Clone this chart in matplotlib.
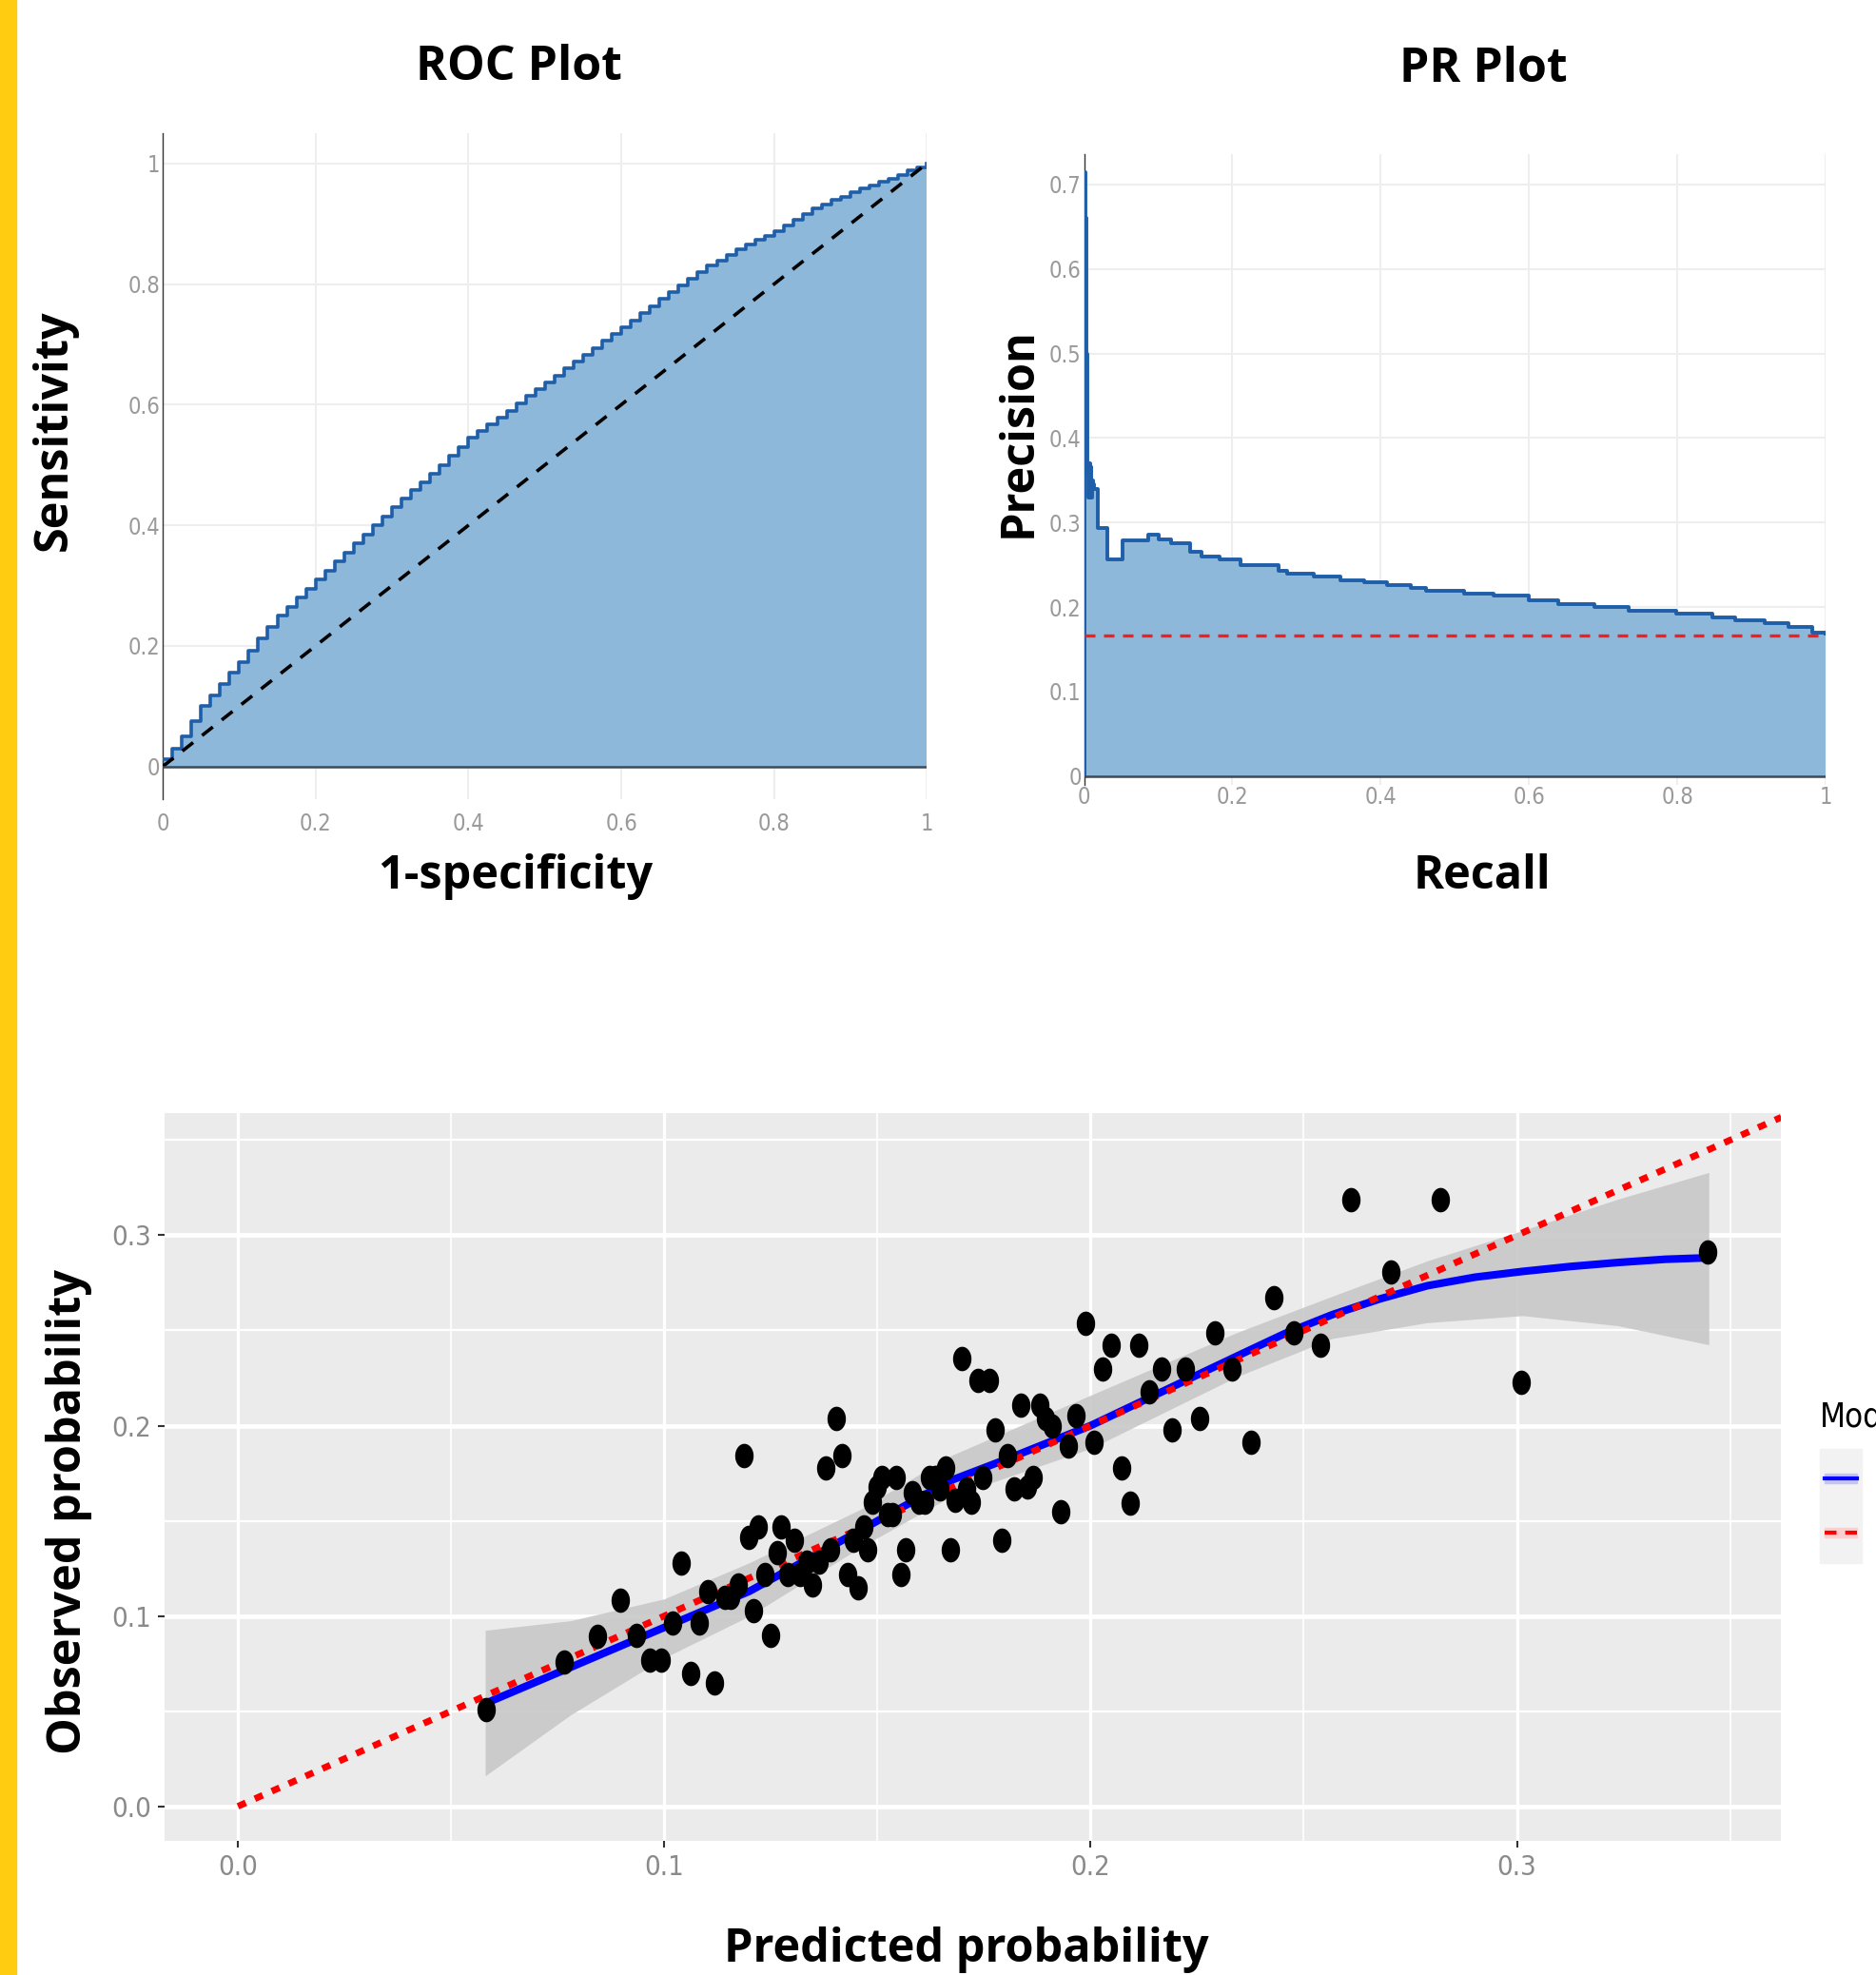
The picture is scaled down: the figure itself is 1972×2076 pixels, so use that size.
import numpy as np
import matplotlib
matplotlib.use("Agg")
import matplotlib.pyplot as plt
from matplotlib import font_manager
from matplotlib.lines import Line2D
from matplotlib.patches import Rectangle
from matplotlib.path import Path

# ---- ROC data ----
roc_fpr = [0.0000, 0.0125, 0.0250, 0.0375, 0.0500, 0.0625, 0.0750, 0.0875, 0.1000, 0.1125,
           0.1250, 0.1375, 0.1500, 0.1625, 0.1750, 0.1875, 0.2000, 0.2125, 0.2250, 0.2375,
           0.2500, 0.2625, 0.2750, 0.2875, 0.3000, 0.3125, 0.3250, 0.3375, 0.3500, 0.3625,
           0.3750, 0.3875, 0.4000, 0.4125, 0.4250, 0.4375, 0.4500, 0.4625, 0.4750, 0.4875,
           0.5000, 0.5125, 0.5250, 0.5375, 0.5500, 0.5625, 0.5750, 0.5875, 0.6000, 0.6125,
           0.6250, 0.6375, 0.6500, 0.6625, 0.6750, 0.6875, 0.7000, 0.7125, 0.7250, 0.7375,
           0.7500, 0.7625, 0.7750, 0.7875, 0.8000, 0.8125, 0.8250, 0.8375, 0.8500, 0.8625,
           0.8750, 0.8875, 0.9000, 0.9125, 0.9250, 0.9375, 0.9500, 0.9625, 0.9750, 0.9875, 1.0000]
roc_tpr = [0.012, 0.030, 0.050, 0.075, 0.100, 0.118, 0.137, 0.155, 0.173, 0.192,
           0.212, 0.231, 0.250, 0.265, 0.280, 0.295, 0.310, 0.325, 0.340, 0.355,
           0.370, 0.385, 0.400, 0.415, 0.430, 0.444, 0.458, 0.471, 0.485, 0.500,
           0.515, 0.530, 0.545, 0.556, 0.568, 0.579, 0.590, 0.602, 0.614, 0.625,
           0.637, 0.648, 0.660, 0.671, 0.683, 0.694, 0.706, 0.717, 0.728, 0.740,
           0.752, 0.763, 0.775, 0.786, 0.798, 0.809, 0.820, 0.830, 0.839, 0.848,
           0.857, 0.865, 0.873, 0.880, 0.888, 0.897, 0.907, 0.916, 0.925, 0.932,
           0.939, 0.945, 0.952, 0.958, 0.964, 0.969, 0.975, 0.981, 0.988, 0.994, 1.000]
roc_ticks = [0, 0.2, 0.4, 0.6, 0.8, 1]
roc_ticklabels = ["0", "0.2", "0.4", "0.6", "0.8", "1"]

# ---- PR data ----
pr_recall = [0.0, 0.0, 0.0015, 0.002, 0.003, 0.004, 0.005, 0.006, 0.007, 0.008, 0.009, 0.010,
             0.011, 0.012, 0.014, 0.018, 0.032, 0.052, 0.087, 0.101, 0.117, 0.143, 0.159,
             0.183, 0.211, 0.262, 0.274, 0.310, 0.346, 0.378, 0.409, 0.441, 0.461, 0.513,
             0.552, 0.600, 0.640, 0.688, 0.735, 0.799, 0.847, 0.878, 0.918, 0.950, 0.982, 1.0]
pr_precision = [0.0, 0.715, 0.715, 0.66, 0.50, 0.41, 0.36, 0.33, 0.37, 0.34, 0.365, 0.33,
                0.35, 0.345, 0.34, 0.293, 0.256, 0.279, 0.286, 0.280, 0.275, 0.265, 0.260,
                0.256, 0.250, 0.243, 0.239, 0.236, 0.232, 0.229, 0.226, 0.222, 0.219, 0.216,
                0.213, 0.208, 0.203, 0.200, 0.196, 0.192, 0.188, 0.184, 0.181, 0.176, 0.170, 0.168]
pr_baseline = 0.166
pr_xticks = [0, 0.2, 0.4, 0.6, 0.8, 1]
pr_xticklabels = ["0", "0.2", "0.4", "0.6", "0.8", "1"]
pr_yticks = [0, 0.1, 0.2, 0.3, 0.4, 0.5, 0.6, 0.7]
pr_yticklabels = ["0", "0.1", "0.2", "0.3", "0.4", "0.5", "0.6", "0.7"]

# ---- calibration data ----
pred = [0.0583, 0.0766, 0.0843, 0.0897, 0.0935, 0.0967, 0.0993, 0.1020, 0.1040, 0.1062,
        0.1082, 0.1103, 0.1118, 0.1142, 0.1156, 0.1174, 0.1186, 0.1198, 0.1210, 0.1221,
        0.1236, 0.1250, 0.1265, 0.1274, 0.1289, 0.1304, 0.1318, 0.1333, 0.1348, 0.1363,
        0.1378, 0.1389, 0.1404, 0.1416, 0.1431, 0.1443, 0.1455, 0.1467, 0.1476, 0.1487,
        0.1499, 0.1511, 0.1523, 0.1535, 0.1544, 0.1555, 0.1567, 0.1582, 0.1597, 0.1611,
        0.1623, 0.1635, 0.1647, 0.1659, 0.1671, 0.1683, 0.1697, 0.1709, 0.1721, 0.1735,
        0.1747, 0.1762, 0.1777, 0.1792, 0.1806, 0.1821, 0.1836, 0.1851, 0.1865, 0.1880,
        0.1895, 0.1910, 0.1931, 0.1948, 0.1966, 0.1987, 0.2007, 0.2028, 0.2049, 0.2072,
        0.2093, 0.2114, 0.2137, 0.2167, 0.2190, 0.2223, 0.2256, 0.2291, 0.2332, 0.2377,
        0.2430, 0.2477, 0.2540, 0.2611, 0.2705, 0.2821, 0.3010, 0.3447]
obs = [0.0509, 0.0760, 0.0892, 0.1084, 0.0899, 0.0767, 0.0767, 0.0965, 0.1276, 0.0700,
       0.0965, 0.1130, 0.0647, 0.1097, 0.1097, 0.1163, 0.1844, 0.1414, 0.1030, 0.1467,
       0.1216, 0.0899, 0.1335, 0.1467, 0.1216, 0.1400, 0.1216, 0.1282, 0.1163, 0.1282,
       0.1778, 0.1348, 0.2040, 0.1844, 0.1216, 0.1400, 0.1150, 0.1467, 0.1348, 0.1600,
       0.1679, 0.1730, 0.1533, 0.1533, 0.1730, 0.1216, 0.1348, 0.1646, 0.1600, 0.1600,
       0.1730, 0.1730, 0.1666, 0.1778, 0.1348, 0.1610, 0.2354, 0.1666, 0.1600, 0.2240,
       0.1730, 0.2240, 0.1976, 0.1400, 0.1844, 0.1666, 0.2109, 0.1679, 0.1730, 0.2109,
       0.2040, 0.2000, 0.1547, 0.1891, 0.2054, 0.2536, 0.1911, 0.2300, 0.2420, 0.1778,
       0.1594, 0.2420, 0.2176, 0.2300, 0.1976, 0.2300, 0.2040, 0.2486, 0.2300, 0.1911,
       0.2671, 0.2486, 0.2420, 0.3187, 0.2807, 0.3187, 0.2230, 0.2910]
loess_x = [0.058, 0.078, 0.100, 0.120, 0.146, 0.167, 0.181, 0.200, 0.2344, 0.2455,
           0.2567, 0.2679, 0.2790, 0.2902, 0.3013, 0.3125, 0.3237, 0.3348, 0.3450]
loess_y = [0.054, 0.073, 0.094, 0.113, 0.145, 0.171, 0.183, 0.200, 0.2366, 0.2483,
           0.2583, 0.2666, 0.2735, 0.2780, 0.2810, 0.2836, 0.2857, 0.2874, 0.2882]
band_x = [0.058, 0.078, 0.100, 0.120, 0.146, 0.167, 0.200, 0.2344, 0.2567, 0.279, 0.3013, 0.3237, 0.345]
band_hi = [0.0925, 0.0975, 0.109, 0.128, 0.156, 0.184, 0.216, 0.249, 0.268, 0.2866, 0.3025, 0.319, 0.333]
band_lo = [0.016, 0.048, 0.078, 0.100, 0.136, 0.1625, 0.188, 0.2258, 0.2458, 0.2541, 0.2578, 0.2525, 0.2425]
ideal = [0.0, 0.362]
cal_ticks = [0.0, 0.1, 0.2, 0.3]
cal_ticklabels = ["0.0", "0.1", "0.2", "0.3"]
cal_minor = [0.05, 0.15, 0.25, 0.35]
legend_title = "Model"
legend_labels = ["Loess", "Perfect"]

W, H = 1972, 2076

# pick fonts that exist here: a bold sans for the big labels, a narrow one for the ticks
fonts = font_manager.fontManager.ttflist


def wnum(w):
    return w if isinstance(w, int) else font_manager.weight_dict.get(w, 400)


bold = "DejaVu Sans"
for fam in ["Open Sans", "Noto Sans", "Lato", "Roboto", "Liberation Sans"]:
    if any(f.name == fam and wnum(f.weight) >= 700 for f in fonts):
        bold = fam
        break
narrow = "Liberation Sans"
narrow_stretch = "normal"
for f in fonts:
    if "Narrow" in f.name or "Condensed" in f.name:
        narrow = f.name
        break
    if f.stretch in ("condensed", "semi-condensed") and f.name in ("Liberation Sans", "DejaVu Sans", "Open Sans", "Roboto"):
        narrow = f.name
        narrow_stretch = f.stretch
        break
bold_fam = [bold, "DejaVu Sans"]

fill_c = "#8DB8D9"
line_c = "#1F5EA8"
tick_c = "#9A9A9A"

fig = plt.figure(figsize=(W / 100, H / 100), dpi=100)
fig.patch.set_facecolor("white")


def fx(px):
    return px / W


def fy(py):
    return 1 - py / H


def narrowize(ax):
    for lab in ax.get_xticklabels() + ax.get_yticklabels():
        lab.set_family(narrow)
        lab.set_stretch(narrow_stretch)


# yellow strip on the left edge
fig.add_artist(Rectangle((0, 0), fx(17), 1, transform=fig.transFigure, color="#FFCC11", zorder=0))

# ================= ROC =================
ax1 = fig.add_axes([fx(171), fy(840), fx(974.5 - 171), (840 - 140) / H])
ax1.fill_between(roc_fpr, roc_tpr, 0, step="post", color=fill_c, lw=0, zorder=2)
ax1.step(roc_fpr, roc_tpr, where="post", color=line_c, lw=2.6, zorder=3)
ax1.plot([0, 1], [0, 1], ls=(0, (4, 3.3)), color="black", lw=2.6, zorder=4)
ax1.axhline(0, color="#3E4A58", lw=1.8, zorder=4)
ax1.set_xlim(0, 1.0)
ax1.set_ylim(-0.054, 1.05)
ax1.set_xticks(roc_ticks)
ax1.set_xticklabels(roc_ticklabels)
ax1.set_yticks(roc_ticks)
ax1.set_yticklabels(roc_ticklabels)
ax1.grid(True, color="#EEEEEE", lw=1.5, zorder=0)
ax1.set_axisbelow(True)
for s in ["top", "right", "bottom"]:
    ax1.spines[s].set_visible(False)
ax1.spines["left"].set_color("#333333")
ax1.spines["left"].set_linewidth(1.0)
ax1.tick_params(length=0, labelsize=17, labelcolor=tick_c)
ax1.tick_params(axis="x", pad=10)
ax1.tick_params(axis="y", pad=2)
narrowize(ax1)

fig.text(fx(545), fy(71), "ROC Plot", ha="center", va="center", fontsize=36, fontweight="bold", family=bold_fam)
fig.text(fx(57), fy(452), "Sensitivity", ha="center", va="center", rotation=90, fontsize=35, fontweight="bold", family=bold_fam)
fig.text(fx(542), fy(921), "1-specificity", ha="center", va="center", fontsize=35, fontweight="bold", family=bold_fam)

# ================= PR =================
ax2 = fig.add_axes([fx(1139.5), fy(824.5), fx(1919 - 1139.5), (824.5 - 162) / H])
ax2.fill_between(pr_recall, pr_precision, 0, step="post", color=fill_c, lw=0, zorder=2)
ax2.step(pr_recall, pr_precision, where="post", color=line_c, lw=2.8, zorder=3)
ax2.axhline(pr_baseline, color="#FF1A1A", ls=(0, (3.3, 2.7)), lw=2.4, zorder=4)
ax2.axhline(0, color="#3E4A58", lw=1.8, zorder=4)
ax2.set_xlim(0, 1.0)
ax2.set_ylim(-0.01, 0.736)
ax2.set_xticks(pr_xticks)
ax2.set_xticklabels(pr_xticklabels)
ax2.set_yticks(pr_yticks)
ax2.set_yticklabels(pr_yticklabels)
ax2.grid(True, color="#EEEEEE", lw=1.5, zorder=0)
ax2.set_axisbelow(True)
for s in ["top", "right", "bottom"]:
    ax2.spines[s].set_visible(False)
ax2.spines["left"].set_color("#333333")
ax2.spines["left"].set_linewidth(1.0)
ax2.tick_params(length=0, labelsize=17, labelcolor=tick_c)
ax2.tick_params(axis="x", pad=1)
ax2.tick_params(axis="y", pad=2)
narrowize(ax2)

fig.text(fx(1559), fy(73), "PR Plot", ha="center", va="center", fontsize=36, fontweight="bold", family=bold_fam)
fig.text(fx(1071), fy(455), "Precision", ha="center", va="center", rotation=90, fontsize=35, fontweight="bold", family=bold_fam)
fig.text(fx(1558), fy(921), "Recall", ha="center", va="center", fontsize=35, fontweight="bold", family=bold_fam)

# ================= calibration =================
ax3 = fig.add_axes([fx(172.6), fy(1934.7), fx(1872.4 - 172.6), (1934.7 - 1170.4) / H])
ax3.set_facecolor("#EBEBEB")
ax3.fill_between(band_x, band_lo, band_hi, color="#C8C8C8", lw=0, alpha=0.9, zorder=2)
ax3.plot(loess_x, loess_y, color="#0000FF", lw=5.8, solid_capstyle="butt", solid_joinstyle="round", zorder=3)
ax3.plot(ideal, ideal, color="#FF0000", lw=5.0, ls=(0, (1.3, 1.5)), zorder=4)

# elliptical dots (the original is slightly stretched vertically)
t = np.linspace(0, 2 * np.pi, 40)
ell = Path(np.column_stack([0.74 * np.cos(t), np.sin(t)]))
ax3.plot(pred, obs, ls="none", marker=ell, ms=17.5, color="black", zorder=5)

ax3.set_xlim(-0.0173, 0.362)
ax3.set_ylim(-0.018, 0.364)
ax3.set_xticks(cal_ticks)
ax3.set_xticklabels(cal_ticklabels)
ax3.set_yticks(cal_ticks)
ax3.set_yticklabels(cal_ticklabels)
ax3.set_xticks(cal_minor, minor=True)
ax3.set_yticks(cal_minor, minor=True)
ax3.xaxis.grid(True, which="major", color="white", lw=2.4)
ax3.xaxis.grid(True, which="minor", color="white", lw=1.2)
ax3.yaxis.grid(True, which="major", color="white", lw=3.4)
ax3.yaxis.grid(True, which="minor", color="white", lw=1.6)
ax3.set_axisbelow(True)
for s in ax3.spines.values():
    s.set_visible(False)
ax3.tick_params(which="major", length=5, width=1.5, color="#333333", labelsize=21, labelcolor="#8A8A8A", pad=5)
ax3.tick_params(which="minor", length=0)
narrowize(ax3)

fig.text(fx(73), fy(1589), "Observed probability", ha="center", va="center", rotation=90, fontsize=35, fontweight="bold", family=bold_fam)
fig.text(fx(1016), fy(2049), "Predicted probability", ha="center", va="center", fontsize=35, fontweight="bold", family=bold_fam)

# legend (cut off by the right edge, as in the original)
fig.text(fx(1913), fy(1499), legend_title, ha="left", va="baseline", fontsize=25, color="black",
         family=narrow, stretch=narrow_stretch)
fig.add_artist(Rectangle((fx(1913), fy(1643)), fx(44), 120 / H, transform=fig.transFigure, color="#F2F2F2", zorder=1))
fig.add_artist(Rectangle((fx(1918), fy(1559)), fx(34), 10 / H, transform=fig.transFigure, color="#C4C4F4", zorder=2))
fig.add_artist(Line2D([fx(1918), fx(1952)], [fy(1554), fy(1554)], transform=fig.transFigure, color="#0000FF", lw=3, zorder=3))
fig.add_artist(Rectangle((fx(1918), fy(1616)), fx(34), 10 / H, transform=fig.transFigure, color="#F8D0D0", zorder=2))
fig.add_artist(Line2D([fx(1918), fx(1952)], [fy(1611), fy(1611)], transform=fig.transFigure, color="#FF0000", lw=3,
                      ls=(0, (3, 2.2)), zorder=3))
fig.text(fx(1969), fy(1554), legend_labels[0], ha="left", va="center", fontsize=22, color="#4D4D4D", family=narrow)
fig.text(fx(1969), fy(1611), legend_labels[1], ha="left", va="center", fontsize=22, color="#4D4D4D", family=narrow)

fig.savefig("out.png", dpi=100)
